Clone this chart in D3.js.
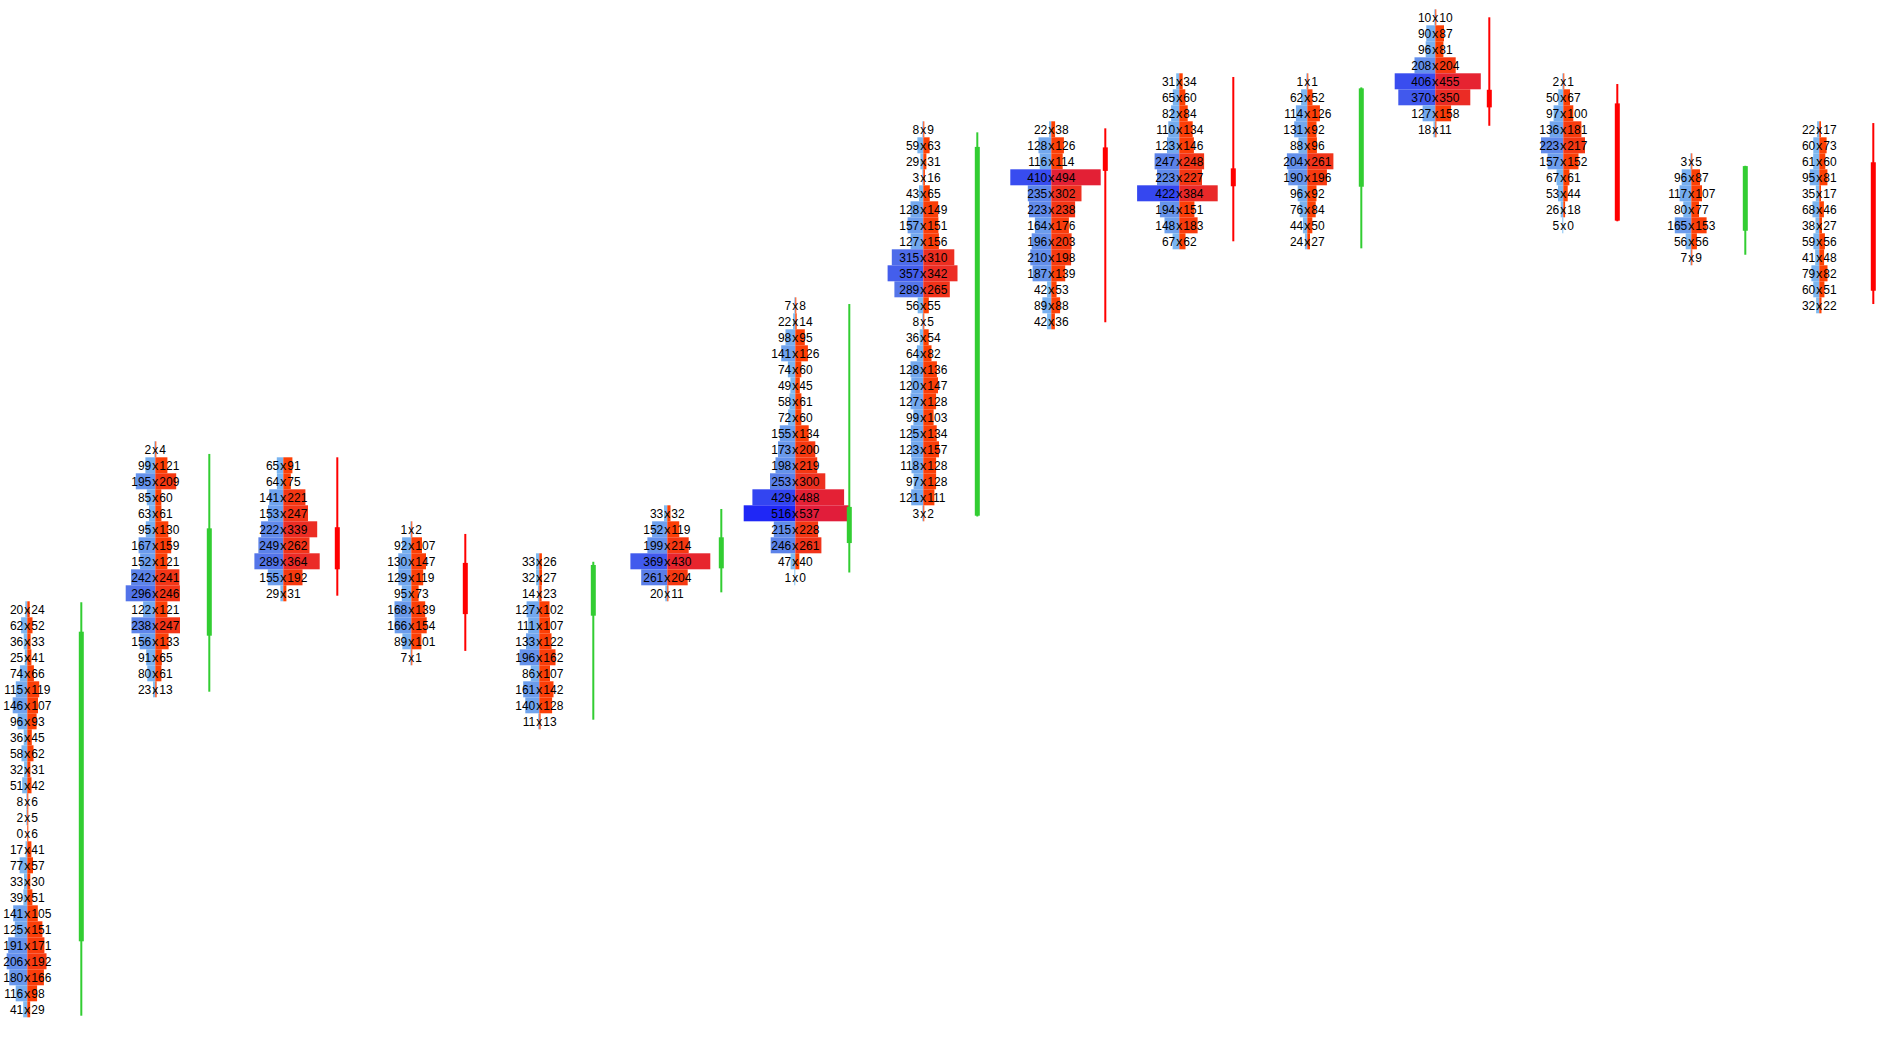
<!DOCTYPE html>
<html>
<head>
<meta charset="utf-8">
<script src="https://cdn.jsdelivr.net/npm/d3@7"></script>
<style>
  html, body { margin: 0; padding: 0; background: #fff; }
  svg { display: block; }
  text { font-family: "Liberation Sans", Arial, sans-serif; font-size: 12px; fill: #000; }
</style>
</head>
<body>
<svg id="chart" width="1880" height="1052"></svg>
<script>
// price is counted in ticks above the lowest row of the picture
const topPrice = [25, 35, 34, 30, 28, 31, 44, 55, 55, 58, 58, 62, 58, 53, 55];

// bid x ask per row, listed from the top row downward
const bids = [
  [20, 62, 36, 25, 74, 115, 146, 96, 36, 58, 32, 51, 8, 2, 0, 17, 77, 33, 39, 141, 125, 191, 206, 180, 116, 41],
  [2, 99, 195, 85, 63, 95, 167, 152, 242, 296, 122, 238, 156, 91, 80, 23],
  [65, 64, 141, 153, 222, 249, 289, 155, 29],
  [1, 92, 130, 129, 95, 168, 166, 89, 7],
  [33, 32, 14, 127, 111, 133, 196, 86, 161, 140, 11],
  [33, 152, 199, 369, 261, 20],
  [7, 22, 98, 141, 74, 49, 58, 72, 155, 173, 198, 253, 429, 516, 215, 246, 47, 1],
  [8, 59, 29, 3, 43, 128, 157, 127, 315, 357, 289, 56, 8, 36, 64, 128, 120, 127, 99, 125, 123, 118, 97, 121, 3],
  [22, 128, 116, 410, 235, 223, 164, 196, 210, 187, 42, 89, 42],
  [31, 65, 82, 110, 123, 247, 223, 422, 194, 148, 67],
  [1, 62, 114, 131, 88, 204, 190, 96, 76, 44, 24],
  [10, 90, 96, 208, 406, 370, 127, 18],
  [2, 50, 97, 136, 223, 157, 67, 53, 26, 5],
  [3, 96, 117, 80, 165, 56, 7],
  [22, 60, 61, 95, 35, 68, 38, 59, 41, 79, 60, 32]
];
const asks = [
  [24, 52, 33, 41, 66, 119, 107, 93, 45, 62, 31, 42, 6, 5, 6, 41, 57, 30, 51, 105, 151, 171, 192, 166, 98, 29],
  [4, 121, 209, 60, 61, 130, 159, 121, 241, 246, 121, 247, 133, 65, 61, 13],
  [91, 75, 221, 247, 339, 262, 364, 192, 31],
  [2, 107, 147, 119, 73, 139, 154, 101, 1],
  [26, 27, 23, 102, 107, 122, 162, 107, 142, 128, 13],
  [32, 119, 214, 430, 204, 11],
  [8, 14, 95, 126, 60, 45, 61, 60, 134, 200, 219, 300, 488, 537, 228, 261, 40, 0],
  [9, 63, 31, 16, 65, 149, 151, 156, 310, 342, 265, 55, 5, 54, 82, 136, 147, 128, 103, 134, 157, 128, 128, 111, 2],
  [38, 126, 114, 494, 302, 238, 176, 203, 198, 139, 53, 88, 36],
  [34, 60, 84, 134, 146, 248, 227, 384, 151, 183, 62],
  [1, 52, 126, 92, 96, 261, 196, 92, 84, 50, 27],
  [10, 87, 81, 204, 455, 350, 158, 11],
  [1, 67, 100, 181, 217, 152, 61, 44, 18, 0],
  [5, 87, 107, 77, 153, 56, 9],
  [17, 73, 60, 81, 17, 46, 27, 56, 48, 82, 51, 22]
];

// candles, same price units
const opens  = [4.25, 23.35, 30.13, 27.9, 24.6, 27.56, 29.14, 30.85, 53.87, 52.56, 51.41, 57.47, 56.62, 48.66, 52.94];
const highs  = [25.44, 34.71, 34.5, 29.71, 27.97, 31.27, 44.08, 54.81, 55.06, 58.27, 57.62, 62.0, 57.83, 52.72, 55.39];
const lows   = [-0.4, 19.85, 25.85, 22.4, 18.1, 26.06, 27.3, 30.8, 42.94, 48.0, 47.56, 55.22, 49.25, 47.16, 44.08];
const closes = [23.6, 30.06, 27.5, 24.7, 27.77, 29.5, 31.4, 53.9, 52.4, 51.44, 57.56, 56.37, 49.29, 52.7, 44.91];

const svg = d3.select("#chart");
const rowH = 16;

const x = d3.scaleLinear().domain([0, 14]).range([27.3, 1819.3]);
const y = d3.scaleLinear().domain([0, 62]).range([1009.3, 17.3]);
const w = d3.scaleLinear().domain([0, 100]).range([0, 10]);

const blueColor = d3.scaleLinear()
  .domain([0, 120, 280, 520])
  .range(["#84c2f2", "#74aaee", "#5678e8", "#1e26f6"]);
const redColor = d3.scaleLinear()
  .domain([0, 150, 300, 520])
  .range(["#ff4200", "#fb3e08", "#ee3020", "#e21e38"]);

function barW(v) {
  if (v <= 0) return 0;
  return Math.max(1, w(v));
}

// flatten rows
const rows = [];
bids.forEach((col, i) => {
  col.forEach((b, j) => {
    rows.push({ col: i, price: topPrice[i] - j, bid: b, ask: asks[i][j] });
  });
});

const g = svg.append("g");

// bid bars (left, blue)
g.selectAll(".bid")
  .data(rows)
  .enter()
  .append("rect")
  .attr("class", "bid")
  .attr("x", d => x(d.col) - barW(d.bid))
  .attr("y", d => y(d.price) - rowH / 2)
  .attr("width", d => barW(d.bid))
  .attr("height", rowH)
  .attr("fill", d => blueColor(d.bid));

// ask bars (right, red)
g.selectAll(".ask")
  .data(rows)
  .enter()
  .append("rect")
  .attr("class", "ask")
  .attr("x", d => x(d.col))
  .attr("y", d => y(d.price) - rowH / 2)
  .attr("width", d => barW(d.ask))
  .attr("height", rowH)
  .attr("fill", d => redColor(d.ask));

// labels
const labels = g.selectAll(".lbl")
  .data(rows)
  .enter()
  .append("g")
  .attr("transform", d => `translate(${x(d.col)},${y(d.price)})`);

labels.append("text")
  .attr("x", -4)
  .attr("dy", "0.36em")
  .attr("text-anchor", "end")
  .text(d => d.bid);
labels.append("text")
  .attr("dy", "0.36em")
  .attr("text-anchor", "middle")
  .text("x");
labels.append("text")
  .attr("x", 4)
  .attr("dy", "0.36em")
  .attr("text-anchor", "start")
  .text(d => d.ask);

// candles
const candleOffset = 54;
const candles = opens.map((o, i) => ({ i, o, h: highs[i], l: lows[i], c: closes[i] }));
const cg = g.selectAll(".candle")
  .data(candles)
  .enter()
  .append("g")
  .attr("class", "candle");

cg.append("rect")
  .attr("x", d => x(d.i) + candleOffset - 1)
  .attr("y", d => y(d.h))
  .attr("width", 2)
  .attr("height", d => y(d.l) - y(d.h))
  .attr("fill", d => d.c >= d.o ? "#32cd32" : "#ff0000");

cg.append("rect")
  .attr("x", d => x(d.i) + candleOffset - 2.5)
  .attr("y", d => y(Math.max(d.o, d.c)))
  .attr("width", 5)
  .attr("height", d => Math.max(1, Math.abs(y(d.o) - y(d.c))))
  .attr("fill", d => d.c >= d.o ? "#32cd32" : "#ff0000");
</script>
</body>
</html>
